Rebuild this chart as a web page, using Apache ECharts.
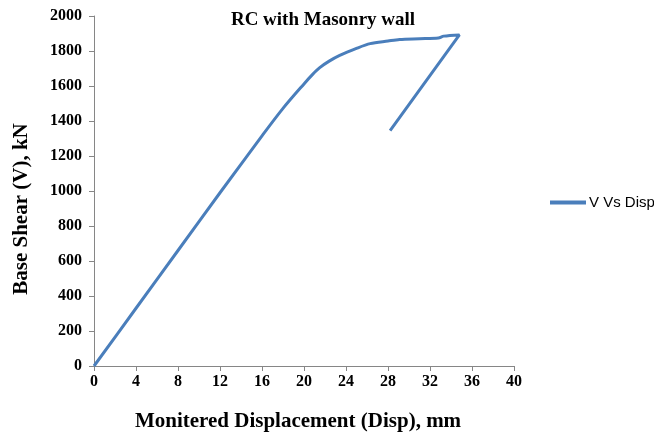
<!DOCTYPE html>
<html>
<head>
<meta charset="utf-8">
<script src="https://cdn.jsdelivr.net/npm/echarts@6/dist/echarts.min.js"></script>
<style>
  html, body { margin: 0; padding: 0; background: #fff; }
  #chart { width: 654px; height: 437px; }
</style>
</head>
<body>
<div id="chart"></div>
<script>
// V vs displacement readings (mm, kN)
const disp = [0, 4, 8, 12, 16, 18, 20, 20.8, 21.5, 22.4, 23.4, 25, 26.3, 28, 29.1, 31, 32.8, 33.3, 34.8, 28.2]
const shear = [0, 330, 660, 990, 1315, 1472, 1612, 1665, 1705, 1742, 1775, 1815, 1842, 1857, 1866, 1870, 1874, 1885, 1892, 1345]

const seriesName = "V Vs Disp"
const titleText = "RC with Masonry wall"
const xName = "Monitered Displacement (Disp), mm"
const yName = "Base Shear (V), kN"

const serif = "Liberation Serif"
const axisColor = "#868686"

const chart = echarts.init(document.getElementById("chart"))

chart.setOption({
  animation: false,
  backgroundColor: "#fff",
  title: {
    text: titleText,
    left: 318,
    top: 6,
    textAlign: "center",
    textStyle: { fontFamily: serif, fontWeight: "bold", fontSize: 19, color: "#000" },
  },
  legend: {
    left: 550,
    top: 195,
    padding: 0,
    itemWidth: 36,
    itemHeight: 4,
    itemGap: 4,
    icon: "rect",
    data: [seriesName],
    textStyle: { fontFamily: "Liberation Sans", fontSize: 15, color: "#000", padding: [0, 0, 0, -2] },
  },
  grid: { left: 94, top: 16, width: 420, height: 352 },
  xAxis: {
    type: "value",
    min: 0,
    max: 40,
    interval: 4,
    name: xName,
    nameLocation: "middle",
    nameGap: 45,
    nameTextStyle: { fontFamily: serif, fontWeight: "bold", fontSize: 21, color: "#000", padding: [0, 12, 0, 0] },
    axisLine: { show: true, lineStyle: { color: axisColor, width: 1 } },
    axisTick: { show: true, length: 5, lineStyle: { color: axisColor } },
    splitLine: { show: false },
    axisLabel: { fontFamily: serif, fontWeight: "bold", fontSize: 16, color: "#000", margin: 8 },
  },
  yAxis: {
    type: "value",
    min: 0,
    max: 2000,
    interval: 200,
    axisLine: { show: true, lineStyle: { color: axisColor, width: 1 } },
    axisTick: { show: true, length: 5, lineStyle: { color: axisColor } },
    splitLine: { show: false },
    axisLabel: {
      fontFamily: serif,
      fontWeight: "bold",
      fontSize: 16,
      color: "#000",
      margin: 12,
      formatter: (v) => String(v),
    },
  },
  graphic: [
    {
      type: "text",
      x: 22,
      y: 209,
      rotation: Math.PI / 2,
      style: {
        text: yName,
        fontFamily: serif,
        fontWeight: "bold",
        fontSize: 21,
        fill: "#000",
        align: "center",
        verticalAlign: "middle",
      },
    },
  ],
  series: [
    {
      name: seriesName,
      type: "line",
      data: disp.map((d, i) => [d, shear[i]]),
      smooth: 0.3,
      showSymbol: false,
      lineStyle: { color: "#4a7ebb", width: 3 },
      itemStyle: { color: "#4a7ebb" },
    },
  ],
})
</script>
</body>
</html>
